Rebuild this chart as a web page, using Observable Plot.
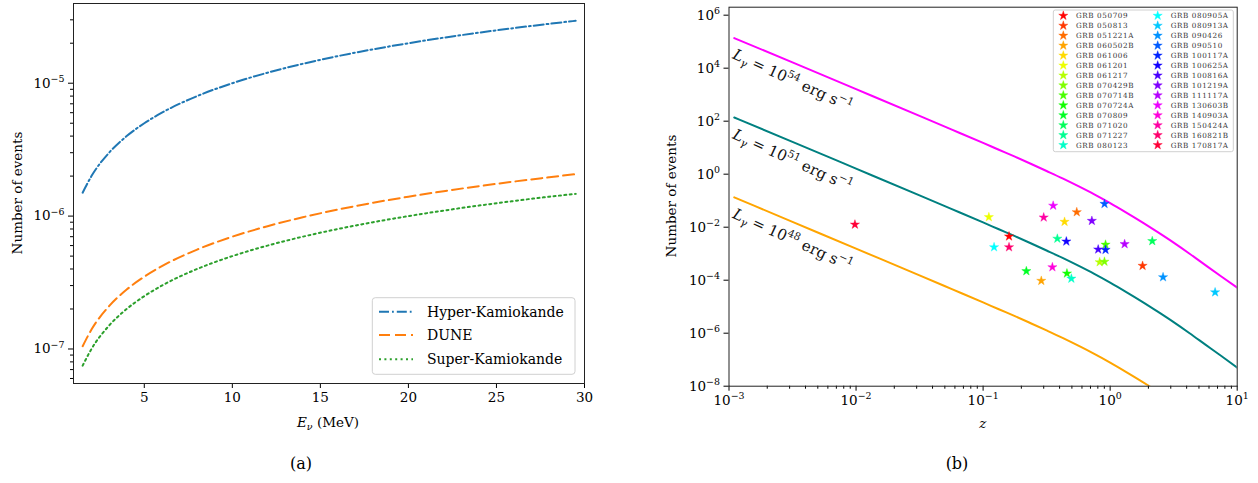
<!DOCTYPE html>
<html>
<head>
<meta charset="utf-8">
<script src="https://cdn.jsdelivr.net/npm/d3@7"></script>
<script src="https://cdn.jsdelivr.net/npm/@observablehq/plot@0.6"></script>
<style>
  html, body { margin: 0; padding: 0; background: #fff; }
  #wrap { position: relative; width: 1258px; height: 483px; overflow: hidden; font-family: "DejaVu Serif", serif; }
  .panel { position: absolute; top: 0; }
  .cap { position: absolute; top: 456px; font-size: 16px; line-height: 16px; width: 40px; text-align: center; color: #000; }
</style>
</head>
<body>
<div id="wrap">
  <div id="pa" class="panel" style="left:0px"></div>
  <div id="pb" class="panel" style="left:640px"></div>
  <div class="cap" style="left:281px">(a)</div>
  <div class="cap" style="left:937px">(b)</div>
</div>
<script>
// ---------- Panel (a) data ----------
const energy = [1.5, 2, 3, 4, 5, 6, 8, 10, 12, 14, 16, 18, 20, 22, 24, 26, 28, 29.5];
const hyperK = [1.5e-6, 2.0e-6, 3.0e-6, 4.0e-6, 5.0e-6, 6.0e-6, 8.0e-6, 1.0e-5, 1.2e-5, 1.4e-5, 1.6e-5, 1.8e-5, 2.0e-5, 2.2e-5, 2.4e-5, 2.6e-5, 2.8e-5, 2.95e-5];
const dune   = [1.05e-7, 1.4e-7, 2.1e-7, 2.8e-7, 3.5e-7, 4.2e-7, 5.6e-7, 7.0e-7, 8.4e-7, 9.8e-7, 1.12e-6, 1.26e-6, 1.4e-6, 1.54e-6, 1.68e-6, 1.82e-6, 1.96e-6, 2.07e-6];
const superK = [7.5e-8, 1.0e-7, 1.5e-7, 2.0e-7, 2.5e-7, 3.0e-7, 4.0e-7, 5.0e-7, 6.0e-7, 7.0e-7, 8.0e-7, 9.0e-7, 1.0e-6, 1.1e-6, 1.2e-6, 1.3e-6, 1.4e-6, 1.47e-6];
const detectorNames = ["Hyper-Kamiokande", "DUNE", "Super-Kamiokande"];
const aXTicks = [5, 10, 15, 20, 25, 30];
const aYTicks = [1e-7, 1e-6, 1e-5];
const aYMinor = [6e-8, 7e-8, 8e-8, 9e-8, 2e-7, 3e-7, 4e-7, 5e-7, 6e-7, 7e-7, 8e-7, 9e-7, 2e-6, 3e-6, 4e-6, 5e-6, 6e-6, 7e-6, 8e-6, 9e-6, 2e-5, 3e-5];

// ---------- Panel (b) data ----------
const zGrid = [0.0011, 0.00316, 0.01, 0.0316, 0.0562, 0.1, 0.133, 0.178, 0.237, 0.316, 0.422, 0.562, 0.75, 1, 1.33, 1.78, 2.37, 3.16, 4.22, 5.62, 7.5, 10];
const nL54 = [1.36e5, 1.66e4, 1.62e3, 158, 49, 15.1, 8.36, 4.58, 2.48, 1.32, 0.693, 0.352, 0.173, 0.0809, 0.0364, 0.0156, 6.5e-3, 2.62e-3, 1.0e-3, 3.72e-4, 1.38e-4, 5.2e-5];
const nL51 = [138, 16.6, 1.62, 0.158, 0.049, 0.0151, 8.36e-3, 4.58e-3, 2.48e-3, 1.32e-3, 6.93e-4, 3.52e-4, 1.73e-4, 8.09e-5, 3.64e-5, 1.56e-5, 6.5e-6, 2.62e-6, 1.0e-6, 3.72e-7, 1.38e-7, 5.0e-8];
const nL48 = [0.134, 0.0159, 1.55e-3, 1.52e-4, 4.7e-5, 1.45e-5, 8.0e-6, 4.4e-6, 2.38e-6, 1.27e-6, 6.65e-7, 3.38e-7, 1.66e-7, 7.8e-8, 3.5e-8, 1.5e-8, 6.2e-9, 2.5e-9, 9.6e-10, 3.6e-10, 1.3e-10, 4.8e-11];
const lumExp = ["54", "51", "48"];
const grbNames = ["GRB 050709","GRB 050813","GRB 051221A","GRB 060502B","GRB 061006","GRB 061201","GRB 061217","GRB 070429B","GRB 070714B","GRB 070724A","GRB 070809","GRB 071020","GRB 071227","GRB 080123",
                  "GRB 080905A","GRB 080913A","GRB 090426","GRB 090510","GRB 100117A","GRB 100625A","GRB 100816A","GRB 101219A","GRB 111117A","GRB 130603B","GRB 140903A","GRB 150424A","GRB 160821B","GRB 170817A"];
const grbZ = [0.16, 1.8, 0.546, 0.287, 0.4377, 0.111, 0.827, 0.902, 0.92, 0.457, 0.219, 2.145, 0.384, 0.495,
              0.122, 6.7, 2.609, 0.903, 0.92, 0.452, 0.805, 0.718, 1.3, 0.356, 0.351, 0.30, 0.16, 0.0098];
const grbN = [4.5e-3, 3.5e-4, 3.7e-2, 9.5e-5, 1.6e-2, 2.4e-2, 4.8e-4, 5.0e-4, 2.2e-3, 1.8e-4, 2.2e-4, 3.0e-3, 3.7e-3, 1.15e-4,
              1.76e-3, 3.5e-5, 1.3e-4, 7.6e-2, 1.4e-3, 2.9e-3, 1.45e-3, 1.74e-2, 2.3e-3, 6.5e-2, 3.1e-4, 2.34e-2, 1.76e-3, 1.26e-2];
const bXTicks = [1e-3, 1e-2, 1e-1, 1, 10];
const bYTicks = [1e-8, 1e-6, 1e-4, 1e-2, 1, 1e2, 1e4, 1e6];
const bXMinor = [];
for (const d of [1e-3, 1e-2, 1e-1, 1]) for (let k = 2; k <= 9; k++) bXMinor.push(+(k * d).toPrecision(3));

// ---------- helpers ----------
const FS = 13.5;
const FONT = "DejaVu Serif";
function rich(el, parts, size) {
  const t = d3.select(el);
  t.text("");
  let shift = 0;
  for (const p of parts) {
    const s = t.append("tspan").text(p.t);
    let target = 0;
    if (p.sup) { s.attr("font-size", size * 0.7); target = -0.42 * size; }
    else if (p.sub) { s.attr("font-size", size * 0.7); target = 0.22 * size; }
    if (target !== shift) { s.attr("dy", target - shift); shift = target; }
    if (p.it) s.attr("font-style", "italic");
  }
}
function powFormat(v) { return "10^" + Math.round(Math.log10(v)); }
function fixPowers(svg) {
  d3.select(svg).selectAll("text").each(function () {
    const m = /^10\^(-?\d+)$/.exec(this.textContent);
    if (m) rich(this, [{t: "10"}, {t: m[1].replace("-", "\u2212"), sup: true}], FS);
  });
}
function colorOf(i) { return d3.hsl(i * 360 / 28, 1, 0.5).formatHex(); }

// ---------- Panel (a) ----------
const aRows = energy.flatMap((e, i) => [
  {e, n: hyperK[i], s: detectorNames[0]},
  {e, n: dune[i], s: detectorNames[1]},
  {e, n: superK[i], s: detectorNames[2]}
]);
const aStyles = {
  "Hyper-Kamiokande": {stroke: "#1f77b4", dash: "10,3,1.8,3"},
  "DUNE": {stroke: "#ff7f0e", dash: "11,5"},
  "Super-Kamiokande": {stroke: "#2ca02c", dash: "2,3.4"}
};
const plotA = Plot.plot({
  width: 600, height: 440,
  marginLeft: 73, marginRight: 16, marginTop: 3, marginBottom: 57,
  style: {fontFamily: FONT, fontSize: FS + "px", color: "#000", background: "transparent"},
  x: {domain: [0.98, 30]},
  y: {type: "log", domain: [5.5e-8, 3.98e-5]},
  marks: [
    ...detectorNames.map(name => Plot.line(aRows.filter(d => d.s === name), {
      x: "e", y: "n", stroke: aStyles[name].stroke, strokeWidth: 2,
      strokeDasharray: aStyles[name].dash, curve: "monotone-x"
    })),
    Plot.axisX({ticks: aXTicks, tickSize: 5, tickPadding: 4, label: null, tickFormat: d => String(d)}),
    Plot.axisY({ticks: aYMinor, tickSize: 3, tickFormat: () => "", label: null}),
    Plot.axisY({ticks: aYTicks, tickSize: 5, tickPadding: 4, tickFormat: powFormat, label: null}),
    Plot.frame({stroke: "#222", strokeWidth: 1})
  ]
});
document.getElementById("pa").appendChild(plotA);
fixPowers(plotA);
{
  const s = d3.select(plotA);
  s.append("text").attr("transform", "translate(17,193) rotate(-90)")
    .attr("text-anchor", "middle").attr("dy", "0.35em")
    .attr("font-family", FONT).attr("font-size", FS).text("Number of events");
  const xl = s.append("text").attr("x", 328).attr("y", 422).attr("text-anchor", "middle")
    .attr("dy", "0.35em").attr("font-family", FONT).attr("font-size", FS).node();
  rich(xl, [{t: "E", it: true}, {t: "\u03bd", sub: true, it: true}, {t: " (MeV)"}], FS);
  // legend
  const g = s.append("g").attr("text-anchor", "start");
  g.append("rect").attr("x", 372.3).attr("y", 297.7).attr("width", 202.7).attr("height", 76.6)
    .attr("rx", 3).attr("fill", "#fff").attr("fill-opacity", 0.8).attr("stroke", "#d0d0d0").attr("stroke-width", 1);
  const rowsY = [311.7, 335, 359.3];
  detectorNames.forEach((name, i) => {
    g.append("line").attr("x1", 379).attr("x2", 413).attr("y1", rowsY[i]).attr("y2", rowsY[i])
      .attr("stroke", aStyles[name].stroke).attr("stroke-width", 2).attr("stroke-dasharray", aStyles[name].dash);
    g.append("text").attr("x", 427).attr("y", rowsY[i]).attr("dy", "0.35em").attr("text-anchor", "start")
      .attr("font-family", FONT).attr("font-size", 14).text(name);
  });
}

// ---------- Panel (b) ----------
const bRows = zGrid.flatMap((z, i) => [
  {z, n: nL54[i], L: "54"}, {z, n: nL51[i], L: "51"}, {z, n: nL48[i], L: "48"}
]);
const bColors = {"54": "#ff00ff", "51": "#008080", "48": "#ffa500"};
const LFS = 15;
const labelPos = [{z: 0.00114, n: 5.6e4, L: "54"}, {z: 0.00114, n: 54, L: "51"}, {z: 0.00114, n: 0.054, L: "48"}];
const grbs = grbNames.map((name, i) => ({name, z: grbZ[i], n: grbN[i], c: colorOf(i)}));
const plotB = Plot.plot({
  width: 618, height: 440,
  marginLeft: 88.5, marginRight: 21.3, marginTop: 6.7, marginBottom: 54.3,
  style: {fontFamily: FONT, fontSize: FS + "px", color: "#000", background: "transparent"},
  x: {type: "log", domain: [1e-3, 10]},
  y: {type: "log", domain: [1e-8, 2e6]},
  color: {type: "identity"},
  marks: [
    ...lumExp.map(L => Plot.line(bRows.filter(d => d.L === L), {
      x: "z", y: "n", stroke: bColors[L], strokeWidth: 2, curve: "monotone-x", clip: true
    })),
    Plot.text(labelPos, {x: "z", y: "n", text: d => d.L, rotate: 24.5, textAnchor: "start",
      lineAnchor: "top", fontSize: LFS, className: "lumlabel", fill: "#111"}),
    Plot.dot(grbs, {x: "z", y: "n", symbol: "star", r: 2.9, fill: "c", stroke: "c", strokeWidth: 0.4}),
    Plot.axisX({ticks: bXMinor, tickSize: 3, tickFormat: () => "", label: null}),
    Plot.axisX({ticks: bXTicks, tickSize: 5, tickPadding: 4, tickFormat: powFormat, label: null}),
    Plot.axisY({ticks: bYTicks, tickSize: 5, tickPadding: 4, tickFormat: powFormat, label: null}),
    Plot.frame({stroke: "#222", strokeWidth: 1})
  ]
});
document.getElementById("pb").appendChild(plotB);
fixPowers(plotB);
{
  const s = d3.select(plotB);
  s.selectAll(".lumlabel text").each(function () {
    const L = this.textContent;
    rich(this, [{t: "L", it: true}, {t: "\u03b3", sub: true, it: true}, {t: " = 10"}, {t: L, sup: true},
                {t: " erg s"}, {t: "\u22121", sup: true}], LFS);
  });
  s.append("text").attr("transform", "translate(31.7,196) rotate(-90)")
    .attr("text-anchor", "middle").attr("dy", "0.35em")
    .attr("font-family", FONT).attr("font-size", FS).text("Number of events");
  s.append("text").attr("x", 342.7).attr("y", 423).attr("text-anchor", "middle").attr("dy", "0.35em")
    .attr("font-family", FONT).attr("font-size", FS).attr("font-style", "italic").text("z");
  // legend
  const g = s.append("g").attr("text-anchor", "start");
  g.append("rect").attr("x", 413.3).attr("y", 10).attr("width", 180).attr("height", 141.7)
    .attr("rx", 2).attr("fill", "#fff").attr("fill-opacity", 0.8).attr("stroke", "#d0d0d0").attr("stroke-width", 1);
  const star = d3.symbol(d3.symbolStar, 26);
  grbs.forEach((d, i) => {
    const col = i < 14 ? 0 : 1, row = i % 14;
    const y = 15.7 + row * 9.95;
    const sx = col ? 517.7 : 423.3, tx = col ? 530.7 : 436;
    g.append("path").attr("d", star()).attr("transform", `translate(${sx},${y})`)
      .attr("fill", d.c).attr("stroke", d.c).attr("stroke-width", 0.4);
    g.append("text").attr("x", tx).attr("y", y).attr("dy", "0.35em").attr("text-anchor", "start")
      .attr("font-family", FONT).attr("font-size", 7.2).attr("letter-spacing", 0.6)
      .attr("fill", "#333").text(d.name);
  });
}
</script>
</body>
</html>
